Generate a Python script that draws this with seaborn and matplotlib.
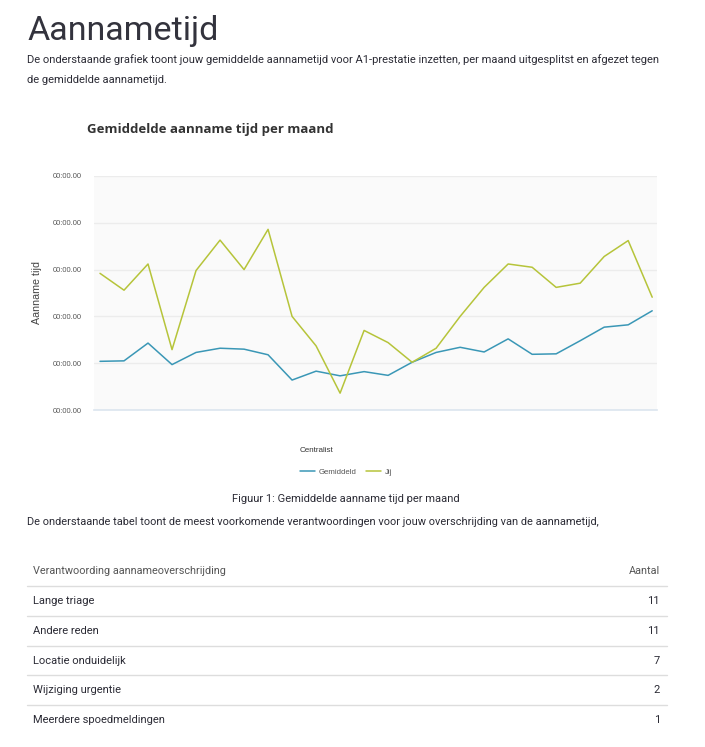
"""
Aannametijd rapport: gemiddelde aanname tijd per maand
"""

import matplotlib
matplotlib.use("Agg")
import matplotlib.pyplot as plt
import seaborn as sns
import pandas as pd

maanden = list(range(24))
gemiddeld = [1.04, 1.05, 1.43, 0.97, 1.23, 1.32, 1.30, 1.18, 0.64, 0.83, 0.73, 0.82,
             0.74, 1.02, 1.23, 1.34, 1.24, 1.52, 1.19, 1.20, 1.48, 1.77, 1.82, 2.12]
jij = [2.92, 2.56, 3.12, 1.29, 2.98, 3.63, 3.00, 3.86, 2.00, 1.37, 0.36, 1.70,
       1.44, 1.02, 1.32, 2.00, 2.62, 3.12, 3.05, 2.62, 2.71, 3.28, 3.62, 2.41]
y_ticks = [0, 1, 2, 3, 4, 5]
y_ticklabels = ["00:00.00"] * 6
x_ticks = [0, 4, 8, 12, 16, 20]

redenen = ["Lange triage", "Andere reden", "Locatie onduidelijk",
           "Wijziging urgentie", "Meerdere spoedmeldingen"]
aantallen = [11, 11, 7, 2, 1]

sns.set_style("white")
plt.rcParams['font.family'] = ['Roboto', 'DejaVu Sans']

W, H = 705, 747
fig = plt.figure(figsize=(W / 100, H / 100), dpi=100)


def fx(px):
    return px / W


def fy(py):
    return 1 - py / H


tekst = "#2b2b35"
arial = ["Liberation Sans", "DejaVu Sans"]

# koptekst
fig.text(fx(27), fy(40), "Aannametijd", fontsize=24.5, color="#33333d", va="baseline")
fig.text(fx(27), fy(63), "De onderstaande grafiek toont jouw gemiddelde aannametijd voor A1-prestatie inzetten, "
         "per maand uitgesplitst en afgezet tegen", fontsize=8.0, color=tekst, va="baseline")
fig.text(fx(27), fy(83), "de gemiddelde aannametijd.", fontsize=8.0, color=tekst, va="baseline")

# grafiek
ax = fig.add_axes([fx(94), fy(410), fx(657) - fx(94), fy(176) - fy(410)])
df = pd.DataFrame({
    "maand": maanden * 2,
    "tijd": gemiddeld + jij,
    "serie": ["Gemiddeld"] * len(maanden) + ["Jij"] * len(maanden),
})
sns.lineplot(data=df, x="maand", y="tijd", hue="serie", ax=ax,
             palette={"Gemiddeld": "#3a97b6", "Jij": "#b6c43a"}, linewidth=1.1)

ax.set_facecolor("#fafafa")
ax.set_xlim(-0.25, 23.2)
ax.set_ylim(0, 5)
ax.set_yticks(y_ticks)
ax.set_yticklabels(y_ticklabels, family=arial)
ax.set_xticks(x_ticks)
ax.set_xticklabels([])
ax.grid(axis="y", color="#ececec", linewidth=1)
ax.set_axisbelow(True)
for s in ["top", "right", "left"]:
    ax.spines[s].set_visible(False)
ax.spines["bottom"].set_color("#dce5ef")
ax.spines["bottom"].set_linewidth(1.2)
ax.tick_params(axis="y", length=0, labelsize=5.4, labelcolor="#555555", pad=8.6)
ax.tick_params(axis="x", length=4, color="#dce5ef", width=1)
ax.set_xlabel("")
ax.set_ylabel("Aanname tijd", fontsize=7.7, color="#444444", labelpad=8, family=arial)

leg = ax.legend(loc="center", bbox_to_anchor=(fx(346), fy(472)), bbox_transform=fig.transFigure,
                ncol=2, frameon=False, prop={"family": arial, "size": 5.6}, handlelength=2.0,
                columnspacing=1.1, handletextpad=0.5)
for t in leg.get_texts():
    t.set_color("#555555")

fig.text(fx(87), fy(130), "Gemiddelde aanname tijd per maand", fontsize=9.5, fontweight="bold",
         color="#333333", va="center", family=["Open Sans", "DejaVu Sans"])
fig.text(fx(317), fy(450), "Centralist", fontsize=5.8, color="#333333", ha="center", va="center",
         family=arial)

fig.text(fx(346), fy(502), "Figuur 1: Gemiddelde aanname tijd per maand", fontsize=8.0,
         color=tekst, ha="center", va="baseline")
fig.text(fx(27), fy(525), "De onderstaande tabel toont de meest voorkomende verantwoordingen "
         "voor jouw overschrijding van de aannametijd,", fontsize=7.9, color=tekst, va="baseline")

# tabel
fig.text(fx(33), fy(571), "Verantwoording aannameoverschrijding", fontsize=7.8, color="#555555", va="center")
fig.text(fx(660), fy(571), "Aantal", fontsize=7.8, color="#555555", va="center", ha="right")
lijn_y = 586
for i, (reden, n) in enumerate(zip(redenen, aantallen)):
    fig.add_artist(plt.Line2D([fx(27), fx(667)], [fy(lijn_y + i * 29.8)] * 2, color="#dddddd", lw=1))
    rij_y = lijn_y + i * 29.8 + 15
    fig.text(fx(33), fy(rij_y), reden, fontsize=8, color=tekst, va="center")
    fig.text(fx(660), fy(rij_y), str(n), fontsize=8, color=tekst, va="center", ha="right")

fig.savefig("out.png", dpi=100)
